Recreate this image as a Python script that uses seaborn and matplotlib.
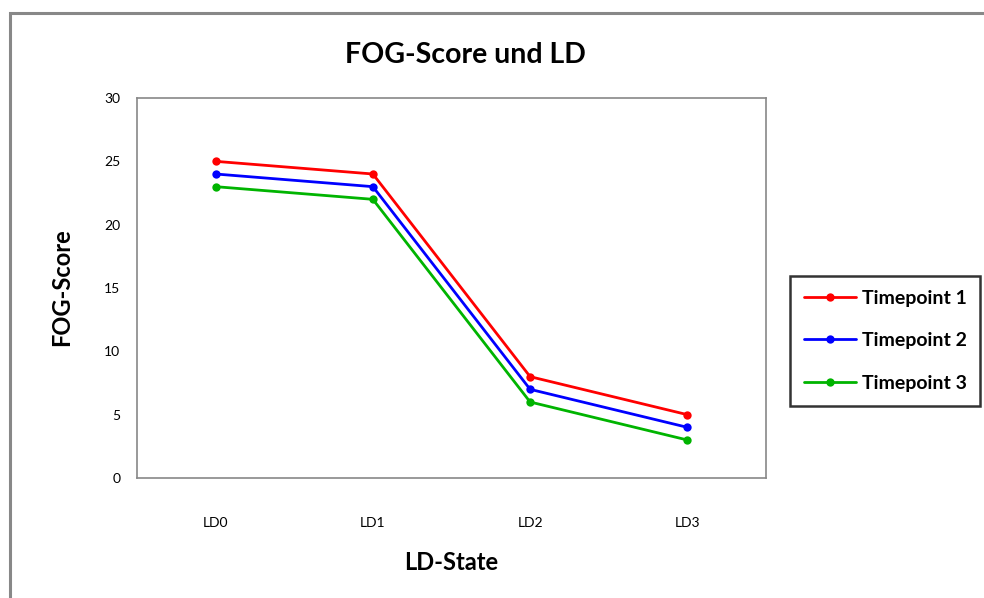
import matplotlib
matplotlib.use("Agg")
import matplotlib.pyplot as plt
from matplotlib.patches import Rectangle
import seaborn as sns
import pandas as pd

categories = ["LD0", "LD1", "LD2", "LD3"]
series_names = ["Timepoint 1", "Timepoint 2", "Timepoint 3"]
tp1 = [25, 24, 8, 5]
tp2 = [24, 23, 7, 4]
tp3 = [23, 22, 6, 3]
colors = ["#ff0000", "#0000ff", "#00b400"]
y_ticks = [0, 5, 10, 15, 20, 25, 30]

rows = []
for name, vals in zip(series_names, [tp1, tp2, tp3]):
    for i, (c, v) in enumerate(zip(categories, vals)):
        rows.append({"pos": i, "LD": c, "score": v, "series": name})
df = pd.DataFrame(rows)

sns.set_theme(style="white")
plt.rcParams["font.family"] = ["Lato", "DejaVu Sans"]
plt.rcParams["text.color"] = "black"
plt.rcParams["xtick.labelcolor"] = "black"
plt.rcParams["ytick.labelcolor"] = "black"

fig = plt.figure(figsize=(9.84, 5.98), dpi=100)
ax = fig.add_axes([137/984, 1-478/598, (766-137)/984, (478-98)/598])

sns.lineplot(data=df, x="pos", y="score", hue="series", palette=colors,
             marker="o", markersize=6, markeredgewidth=0, linewidth=2.0,
             ax=ax, legend=True)

ax.set_xlim(-0.5, len(categories) - 0.5)
ax.set_ylim(0, 30)
ax.set_yticks(y_ticks)
ax.set_xticks(range(len(categories)))
ax.set_xticklabels(categories)
ax.set_xticks([i - 0.5 for i in range(len(categories) + 1)], minor=True)
ax.tick_params(axis="x", which="major", length=0, pad=28, labelsize=10, labelcolor="black")
ax.tick_params(axis="x", which="minor", length=7, width=1, color="#888888", direction="out")
ax.tick_params(axis="y", which="major", length=6, width=1, color="#888888", direction="out",
               labelsize=10, pad=6, labelcolor="black")
for s in ax.spines.values():
    s.set_color("#888888")
    s.set_linewidth(1.2)

ax.set_xlabel("")
ax.set_ylabel("")
fig.text(465/984, 1-55/598, "FOG-Score und LD", ha="center", va="center",
         fontsize=20.5, fontweight="bold", color="black")
fig.text(62/984, 1-287/598, "FOG-Score", ha="center", va="center", rotation=90,
         fontsize=17, fontweight="bold", color="black")
fig.text(451/984, 1-563/598, "LD-State", ha="center", va="center",
         fontsize=17, fontweight="bold", color="black")

handles, labels = ax.get_legend_handles_labels()
ax.legend_.remove()
leg = fig.legend(handles, labels, loc="upper left",
                 bbox_to_anchor=(790/984, 1-276/598), borderaxespad=0,
                 frameon=True, fancybox=False, edgecolor="black",
                 prop={"weight": "bold", "size": 14},
                 handlelength=2.7, labelspacing=1.32, borderpad=0.7,
                 handletextpad=0.3, labelcolor="black")
leg.get_frame().set_linewidth(1.8)

fig.patches.append(Rectangle((10/984, -0.1), 1.1, (1-13/598) + 0.1,
                             transform=fig.transFigure, fill=False,
                             edgecolor="#888888", linewidth=2.2))

fig.savefig("out.png", dpi=100)
